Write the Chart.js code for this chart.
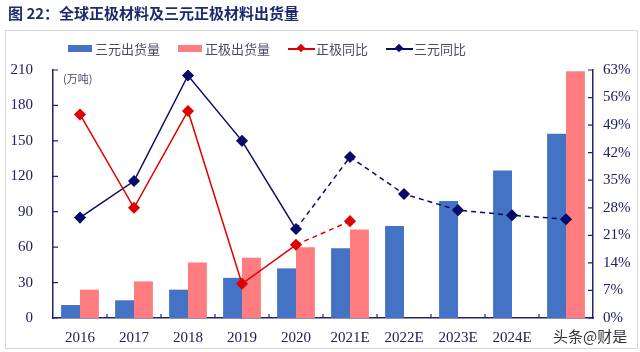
<!DOCTYPE html>
<html>
<head>
<meta charset="utf-8">
<script src="https://cdn.jsdelivr.net/npm/chart.js@4.4.1/dist/chart.umd.min.js"></script>
<style>
  body { margin: 0; background: #fff; }
  #wrap { position: relative; width: 640px; height: 352px; overflow: hidden; }
  #frame { position: absolute; left: 5px; top: 30px; width: 631px; height: 317px; border: 1px solid #d4d8e0; }
  #title { position: absolute; left: 8px; top: 2px; font: bold 15px "Noto Sans CJK SC", sans-serif; color: #1c2a6e; }
  #legend { position: absolute; left: 68px; top: 39px; font: 13px "Noto Sans CJK SC", sans-serif; color: #4a4a6a; display: flex; align-items: center; }
  .item { display: flex; align-items: center; margin-right: 18px; }
  .box { width: 24px; height: 7px; margin-right: 3px; }
  .ln { position: relative; width: 27px; height: 2px; margin-right: 1px; }
  .ln i { position: absolute; left: 10px; top: -3px; width: 6px; height: 6px; transform: rotate(45deg); }
  #mark { position: absolute; left: 553px; top: 325px; font: 15px "Noto Sans CJK SC", sans-serif; color: #333; }
  #unit { position: absolute; left: 63px; top: 70px; font: 11px "Noto Sans CJK SC", sans-serif; color: #4a4a6a; }
  canvas { position: absolute; left: 0; top: 0; }
</style>
</head>
<body>
<div id="wrap">
  <div id="frame"></div>
  <canvas id="myChart" width="640" height="352"></canvas>
  <div id="title">图 22：全球正极材料及三元正极材料出货量</div>
  <div id="legend">
    <div class="item"><span class="box" style="background:#4472C4"></span>三元出货量</div>
    <div class="item"><span class="box" style="background:#FF7C80"></span>正极出货量</div>
    <div class="item"><span class="ln" style="background:#E00000"><i style="background:#E00000"></i></span>正极同比</div>
    <div class="item"><span class="ln" style="background:#0A0A6A"><i style="background:#0A0A6A"></i></span>三元同比</div>
  </div>
  <div id="unit">(万吨)</div>
  <div id="mark">头条@财是</div>
</div>
<script>
// categories and values
const years = ['2016', '2017', '2018', '2019', '2020', '2021E', '2022E', '2023E', '2024E', '2025E'];
const ternaryShip = [11, 15, 24, 34, 42, 59, 78, 99, 125, 156];        // 万吨
const cathodeShip = [24, 31, 47, 51, 60, 75, null, null, null, 209];   // 万吨
const cathodeYoY = [51.7, 28, 52.6, 8.7, 18.6, 24.6, null, null, null, null]; // %
const ternaryYoY = [25.5, 34.8, 61.6, 45, 22.6, 40.9, 31.5, 27.4, 26.1, 25.1]; // %

const navy = '#23236b';
const tickFont = { family: 'Liberation Serif', size: 15 };

// dashed from 2020 onwards (forecast part)
const dashAfter = ctx => ctx.p0DataIndex >= 4 ? [5, 4] : undefined;

// small tick marks on the inner side of the axes
const innerTicks = {
  id: 'innerTicks',
  afterDraw(chart) {
    const c = chart.ctx;
    const { x, y, y1 } = chart.scales;
    c.save();
    c.strokeStyle = navy;
    c.lineWidth = 1.2;
    c.beginPath();
    y.ticks.forEach(t => {
      const py = y.getPixelForValue(t.value);
      c.moveTo(x.left, py); c.lineTo(x.left + 5, py);
    });
    y1.ticks.forEach(t => {
      const py = y1.getPixelForValue(t.value);
      c.moveTo(x.right, py); c.lineTo(x.right - 5, py);
    });
    const w = (x.right - x.left) / years.length;
    for (let i = 1; i < years.length; i++) {
      const px = x.left + w * i;
      c.moveTo(px, y.bottom); c.lineTo(px, y.bottom - 4);
    }
    c.stroke();
    c.restore();
  }
};

const ctx = document.getElementById('myChart').getContext('2d');
const myChart = new Chart(ctx, {
  type: 'bar',
  data: {
    labels: years,
    datasets: [
      {
        type: 'line', label: '正极同比', data: cathodeYoY, yAxisID: 'y1', order: 0,
        borderColor: '#E00000', backgroundColor: '#E00000', borderWidth: 1.5,
        pointStyle: 'rectRot', pointRadius: 5, segment: { borderDash: dashAfter }
      },
      {
        type: 'line', label: '三元同比', data: ternaryYoY, yAxisID: 'y1', order: 0,
        borderColor: '#0A0A6A', backgroundColor: '#0A0A6A', borderWidth: 1.5,
        pointStyle: 'rectRot', pointRadius: 5, segment: { borderDash: dashAfter }
      },
      {
        label: '三元出货量', data: ternaryShip, yAxisID: 'y', order: 1,
        backgroundColor: '#4472C4', categoryPercentage: 0.7, barPercentage: 1
      },
      {
        label: '正极出货量', data: cathodeShip, yAxisID: 'y', order: 1,
        backgroundColor: '#FF7C80', categoryPercentage: 0.7, barPercentage: 1
      }
    ]
  },
  options: {
    responsive: false,
    animation: false,
    layout: { padding: { top: 70, left: 0, right: 0, bottom: 0 } },
    plugins: { legend: { display: false }, tooltip: { enabled: false } },
    scales: {
      x: {
        grid: { display: false },
        border: { color: navy, width: 1.5 },
        ticks: {
          color: '#1f2060', font: tickFont, padding: 3,
          callback: (v, i) => i === years.length - 1 ? '' : years[i]
        },
        afterFit: s => { s.height = 34; }
      },
      y: {
        position: 'left', min: 0, max: 210,
        grid: { display: false, drawTicks: false },
        border: { color: navy, width: 1.5 },
        ticks: { stepSize: 30, color: '#1f2060', font: tickFont, padding: 20 },
        afterFit: s => { s.width = 53; }
      },
      y1: {
        position: 'right', min: 0, max: 63,
        grid: { display: false, drawTicks: false },
        border: { color: navy, width: 1.5 },
        ticks: { stepSize: 7, color: '#1f2060', font: tickFont, padding: 10, callback: v => v + '%' },
        afterFit: s => { s.width = 47; }
      }
    }
  },
  plugins: [innerTicks]
});
</script>
</body>
</html>
